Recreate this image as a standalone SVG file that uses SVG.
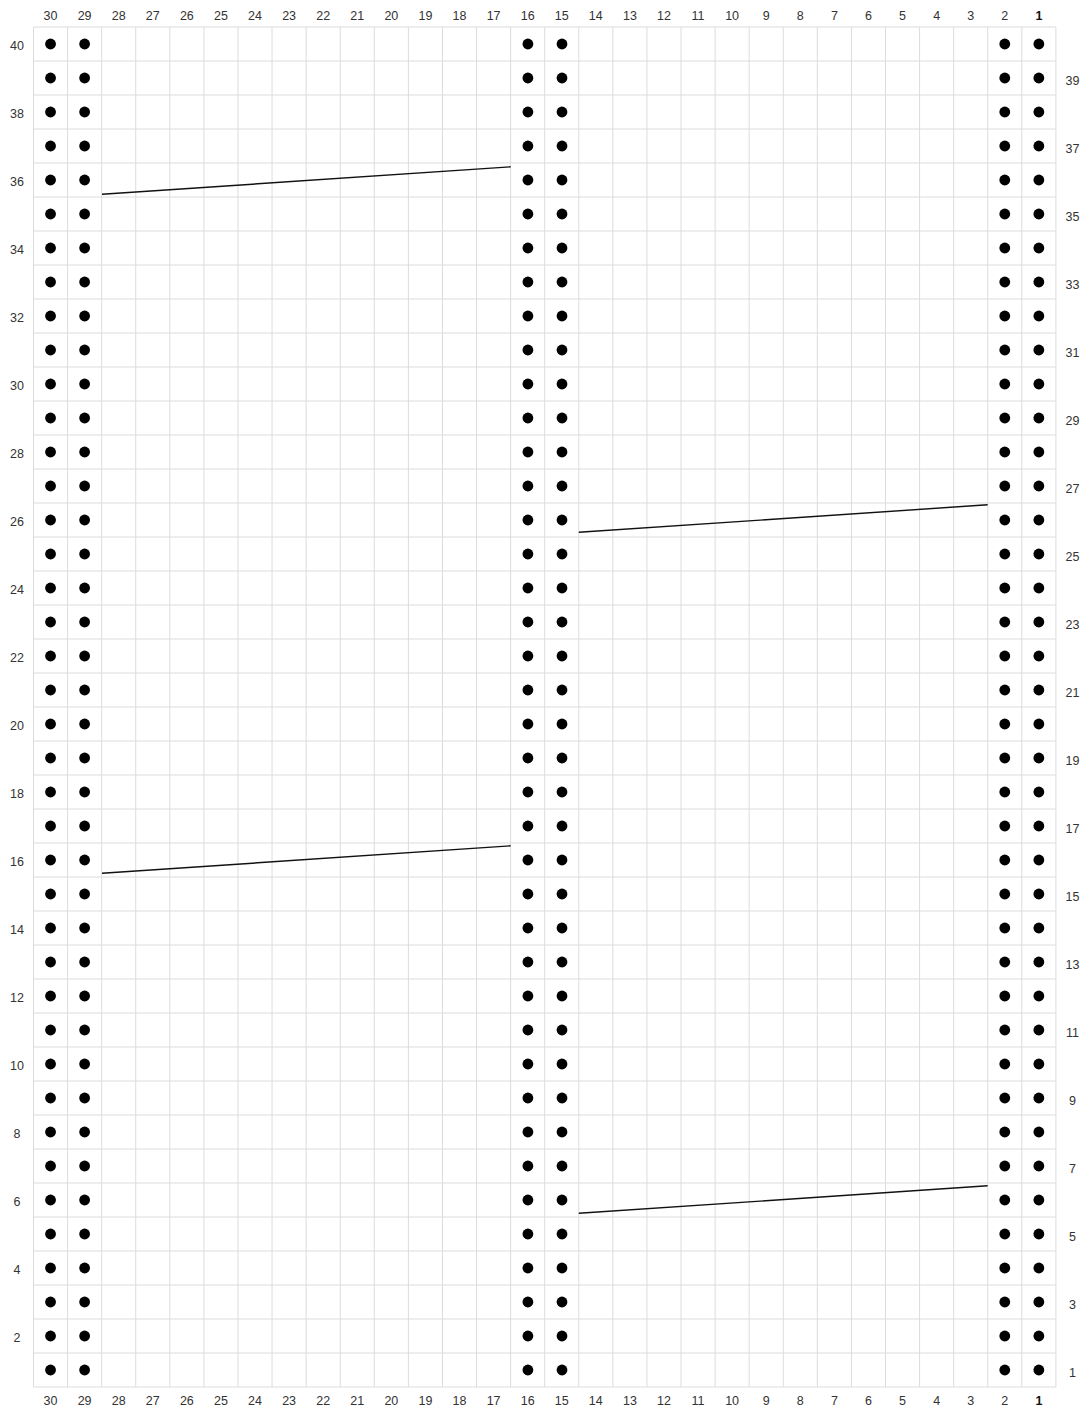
<svg xmlns="http://www.w3.org/2000/svg" xmlns:xlink="http://www.w3.org/1999/xlink" width="1089" height="1409" viewBox="0 0 1089 1409">
<style>
.grid{stroke:#dcdcdc;stroke-width:1;fill:none}
.dot{fill:#000}
.lbl{font-family:"Liberation Sans",Arial,sans-serif;font-size:12.5px;fill:#333;text-anchor:middle}
.b{font-weight:bold;fill:#111}
.conn{stroke:#111;stroke-width:1.4;fill:none}
</style>
<defs>
<g id="dotrow">
<circle class="dot" cx="50.54" cy="0" r="5.4"/>
<circle class="dot" cx="84.62" cy="0" r="5.4"/>
<circle class="dot" cx="527.9" cy="0" r="5.4"/>
<circle class="dot" cx="562" cy="0" r="5.4"/>
<circle class="dot" cx="1004.78" cy="0" r="5.4"/>
<circle class="dot" cx="1038.86" cy="0" r="5.4"/>
</g>
<g id="collabels">
<text class="lbl" x="50.54">30</text><text class="lbl" x="84.62">29</text><text class="lbl" x="118.7">28</text><text class="lbl" x="152.78">27</text><text class="lbl" x="186.86">26</text><text class="lbl" x="220.94">25</text><text class="lbl" x="255.02">24</text><text class="lbl" x="289.1">23</text><text class="lbl" x="323.18">22</text><text class="lbl" x="357.26">21</text><text class="lbl" x="391.34">20</text><text class="lbl" x="425.42">19</text><text class="lbl" x="459.5">18</text><text class="lbl" x="493.58">17</text><text class="lbl" x="527.66">16</text><text class="lbl" x="561.74">15</text><text class="lbl" x="595.82">14</text><text class="lbl" x="629.9">13</text><text class="lbl" x="663.98">12</text><text class="lbl" x="698.06">11</text><text class="lbl" x="732.14">10</text><text class="lbl" x="766.22">9</text><text class="lbl" x="800.3">8</text><text class="lbl" x="834.38">7</text><text class="lbl" x="868.46">6</text><text class="lbl" x="902.54">5</text><text class="lbl" x="936.62">4</text><text class="lbl" x="970.7">3</text><text class="lbl" x="1004.78">2</text><text class="lbl b" x="1038.86">1</text>
</g>
</defs>
<rect width="1089" height="1409" fill="#fff"/>
<g id="grid">
<path class="grid" d="M33.5 27V1387M67.58 27V1387M101.66 27V1387M135.74 27V1387M169.82 27V1387M203.9 27V1387M237.98 27V1387M272.06 27V1387M306.14 27V1387M340.22 27V1387M374.3 27V1387M408.38 27V1387M442.46 27V1387M476.54 27V1387M510.62 27V1387M544.7 27V1387M578.78 27V1387M612.86 27V1387M646.94 27V1387M681.02 27V1387M715.1 27V1387M749.18 27V1387M783.26 27V1387M817.34 27V1387M851.42 27V1387M885.5 27V1387M919.58 27V1387M953.66 27V1387M987.74 27V1387M1021.82 27V1387M1055.9 27V1387"/>
<path class="grid" d="M33.5 27H1055.9M33.5 61H1055.9M33.5 95H1055.9M33.5 129H1055.9M33.5 163H1055.9M33.5 197H1055.9M33.5 231H1055.9M33.5 265H1055.9M33.5 299H1055.9M33.5 333H1055.9M33.5 367H1055.9M33.5 401H1055.9M33.5 435H1055.9M33.5 469H1055.9M33.5 503H1055.9M33.5 537H1055.9M33.5 571H1055.9M33.5 605H1055.9M33.5 639H1055.9M33.5 673H1055.9M33.5 707H1055.9M33.5 741H1055.9M33.5 775H1055.9M33.5 809H1055.9M33.5 843H1055.9M33.5 877H1055.9M33.5 911H1055.9M33.5 945H1055.9M33.5 979H1055.9M33.5 1013H1055.9M33.5 1047H1055.9M33.5 1081H1055.9M33.5 1115H1055.9M33.5 1149H1055.9M33.5 1183H1055.9M33.5 1217H1055.9M33.5 1251H1055.9M33.5 1285H1055.9M33.5 1319H1055.9M33.5 1353H1055.9M33.5 1387H1055.9"/>
</g>
<g id="dots">
<use xlink:href="#dotrow" y="44"/><use xlink:href="#dotrow" y="78"/><use xlink:href="#dotrow" y="112"/><use xlink:href="#dotrow" y="146"/><use xlink:href="#dotrow" y="180"/><use xlink:href="#dotrow" y="214"/><use xlink:href="#dotrow" y="248"/><use xlink:href="#dotrow" y="282"/><use xlink:href="#dotrow" y="316"/><use xlink:href="#dotrow" y="350"/>
<use xlink:href="#dotrow" y="384"/><use xlink:href="#dotrow" y="418"/><use xlink:href="#dotrow" y="452"/><use xlink:href="#dotrow" y="486"/><use xlink:href="#dotrow" y="520"/><use xlink:href="#dotrow" y="554"/><use xlink:href="#dotrow" y="588"/><use xlink:href="#dotrow" y="622"/><use xlink:href="#dotrow" y="656"/><use xlink:href="#dotrow" y="690"/>
<use xlink:href="#dotrow" y="724"/><use xlink:href="#dotrow" y="758"/><use xlink:href="#dotrow" y="792"/><use xlink:href="#dotrow" y="826"/><use xlink:href="#dotrow" y="860"/><use xlink:href="#dotrow" y="894"/><use xlink:href="#dotrow" y="928"/><use xlink:href="#dotrow" y="962"/><use xlink:href="#dotrow" y="996"/><use xlink:href="#dotrow" y="1030"/>
<use xlink:href="#dotrow" y="1064"/><use xlink:href="#dotrow" y="1098"/><use xlink:href="#dotrow" y="1132"/><use xlink:href="#dotrow" y="1166"/><use xlink:href="#dotrow" y="1200"/><use xlink:href="#dotrow" y="1234"/><use xlink:href="#dotrow" y="1268"/><use xlink:href="#dotrow" y="1302"/><use xlink:href="#dotrow" y="1336"/><use xlink:href="#dotrow" y="1370"/>
</g>
<g id="connectors">
<line class="conn" x1="102" y1="194.3" x2="510.6" y2="166.8"/>
<line class="conn" x1="578.8" y1="532.3" x2="987.7" y2="504.8"/>
<line class="conn" x1="102" y1="873.3" x2="510.6" y2="845.8"/>
<line class="conn" x1="578.8" y1="1213.3" x2="987.7" y2="1185.8"/>
</g>
<g id="col-labels-top"><use xlink:href="#collabels" y="19.5"/></g>
<g id="col-labels-bottom"><use xlink:href="#collabels" y="1404.5"/></g>
<g id="row-labels-left">
<text class="lbl" x="17" y="50">40</text><text class="lbl" x="17" y="118">38</text><text class="lbl" x="17" y="186">36</text><text class="lbl" x="17" y="254">34</text><text class="lbl" x="17" y="322">32</text><text class="lbl" x="17" y="390">30</text><text class="lbl" x="17" y="458">28</text><text class="lbl" x="17" y="526">26</text><text class="lbl" x="17" y="594">24</text><text class="lbl" x="17" y="662">22</text><text class="lbl" x="17" y="730">20</text><text class="lbl" x="17" y="798">18</text><text class="lbl" x="17" y="866">16</text><text class="lbl" x="17" y="934">14</text><text class="lbl" x="17" y="1002">12</text><text class="lbl" x="17" y="1070">10</text><text class="lbl" x="17" y="1138">8</text><text class="lbl" x="17" y="1206">6</text><text class="lbl" x="17" y="1274">4</text><text class="lbl" x="17" y="1342">2</text>
</g>
<g id="row-labels-right">
<text class="lbl" x="1072.5" y="85">39</text><text class="lbl" x="1072.5" y="153">37</text><text class="lbl" x="1072.5" y="221">35</text><text class="lbl" x="1072.5" y="289">33</text><text class="lbl" x="1072.5" y="357">31</text><text class="lbl" x="1072.5" y="425">29</text><text class="lbl" x="1072.5" y="493">27</text><text class="lbl" x="1072.5" y="561">25</text><text class="lbl" x="1072.5" y="629">23</text><text class="lbl" x="1072.5" y="697">21</text><text class="lbl" x="1072.5" y="765">19</text><text class="lbl" x="1072.5" y="833">17</text><text class="lbl" x="1072.5" y="901">15</text><text class="lbl" x="1072.5" y="969">13</text><text class="lbl" x="1072.5" y="1037">11</text><text class="lbl" x="1072.5" y="1105">9</text><text class="lbl" x="1072.5" y="1173">7</text><text class="lbl" x="1072.5" y="1241">5</text><text class="lbl" x="1072.5" y="1309">3</text><text class="lbl" x="1072.5" y="1377">1</text>
</g>
</svg>
